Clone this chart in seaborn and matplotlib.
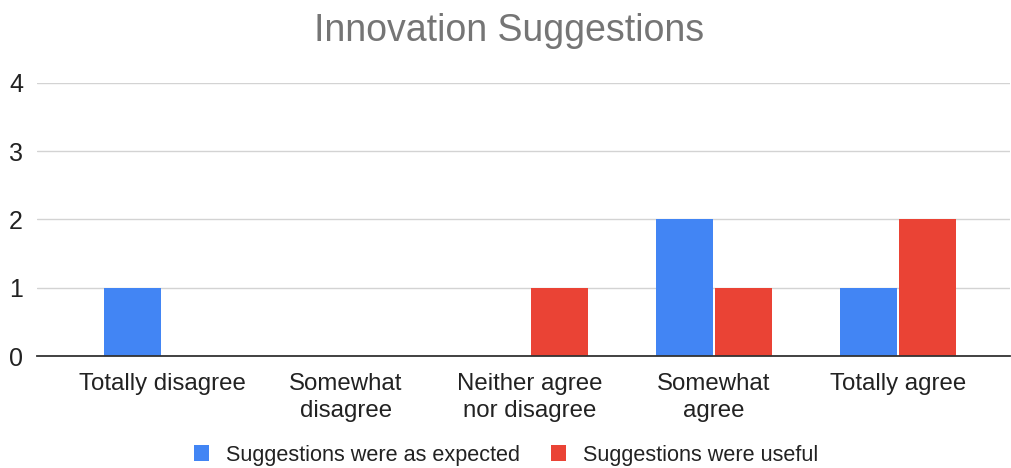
import matplotlib
matplotlib.use("Agg")
import matplotlib.pyplot as plt
import seaborn as sns
import pandas as pd
from matplotlib.patches import Patch

categories = ["Totally disagree", "Somewhat\ndisagree", "Neither agree\nnor disagree",
              "Somewhat\nagree", "Totally agree"]
series_names = ["Suggestions were as expected", "Suggestions were useful"]
as_expected = [1, 0, 0, 2, 1]
useful = [0, 0, 1, 1, 2]
y_ticks = [0, 1, 2, 3, 4]
colors = ["#4285F4", "#EA4335"]

df = pd.DataFrame({
    "category": categories * 2,
    "series": [series_names[0]] * len(categories) + [series_names[1]] * len(categories),
    "value": as_expected + useful,
})

sns.set_theme(style="white")
plt.rcParams["font.family"] = ["Liberation Sans", "DejaVu Sans"]

fig = plt.figure(figsize=(10.12, 4.68), dpi=100)
ax = fig.add_axes([37 / 1012, 1 - 356 / 468, (1010 - 37) / 1012, (356 - 83) / 468])

sns.barplot(data=df, x="category", y="value", hue="series", order=categories,
            hue_order=series_names, palette=colors, width=0.64, gap=0.03,
            linewidth=0, saturation=1, errorbar=None, legend=False, ax=ax)

ax.set_xlim(-0.68, 4.61)
ax.set_ylim(0, 4)
ax.set_yticks(y_ticks)
ax.set_yticklabels([str(t) for t in y_ticks])
ax.yaxis.grid(True, color="#d3d3d3", linewidth=1)
ax.set_axisbelow(True)
for side in ["top", "right", "left"]:
    ax.spines[side].set_visible(False)
ax.spines["bottom"].set_color("#333333")
ax.spines["bottom"].set_linewidth(1.3)
ax.set_xlabel("")
ax.set_ylabel("")
ax.tick_params(axis="x", length=0, pad=12, labelsize=17.3, labelcolor="#222222")
ax.tick_params(axis="y", length=0, pad=10, labelsize=18, labelcolor="#222222")
for lbl in ax.get_xticklabels():
    lbl.set_linespacing(1.3)
    lbl.set_verticalalignment("top")

fig.text(0.503, 1 - 31 / 468, "Innovation Suggestions", ha="center", va="center",
         fontsize=27, color="#757575")

handles = [Patch(facecolor=c, edgecolor="none") for c in colors]
fig.legend(handles, series_names, loc="center", bbox_to_anchor=(0.5, 1 - 455 / 468),
           ncol=2, frameon=False, fontsize=15.6, handlelength=0.7, handleheight=0.7,
           handletextpad=0.8, columnspacing=1.4, labelcolor="#222222")

fig.savefig("out.png", dpi=100, facecolor="white")
